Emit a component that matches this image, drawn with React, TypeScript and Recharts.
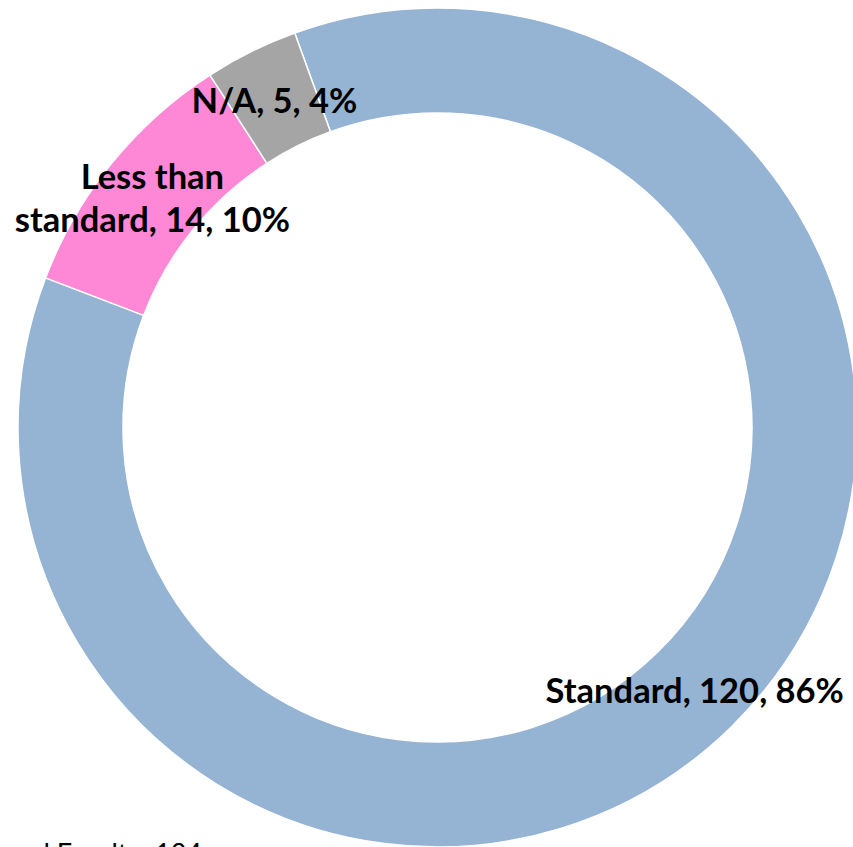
import React from "react";
import { PieChart, Pie, Cell } from "recharts";

const categories: string[] = ["Standard", "Less than standard", "N/A"];
const counts: number[] = [120, 14, 5];
const sliceColors: string[] = ["#95B3D3", "#FF88D6", "#A5A5A5"];
const footnote = "Surveyed Faculty: 134";

const data = categories.map((name, i) => ({ name, value: counts[i] }));

const RAD = Math.PI / 180;
const LABEL_FONT = "Lato, 'Open Sans', sans-serif";

function wrap(text: string, maxChars: number): string[] {
  const words = text.split(" ");
  const lines: string[] = [];
  let cur = "";
  for (const w of words) {
    const cand = cur ? cur + " " + w : w;
    if (cand.length > maxChars && cur) {
      lines.push(cur);
      cur = w;
    } else {
      cur = cand;
    }
  }
  if (cur) lines.push(cur);
  return lines;
}

const renderLabel = (props: any) => {
  const { cx, cy, midAngle, innerRadius, outerRadius, percent, value, name } = props;
  const r = (innerRadius + outerRadius) / 2;
  const x = cx + r * Math.cos(-midAngle * RAD);
  const y = cy + r * Math.sin(-midAngle * RAD);
  const text = `${name}, ${value}, ${Math.round(percent * 100)}%`;
  const lines = wrap(text, 18);
  const lh = 43;
  const startY = y - ((lines.length - 1) * lh) / 2;
  return (
    <text
      x={x}
      y={startY}
      textAnchor="middle"
      dominantBaseline="central"
      fill="#000"
      fontFamily={LABEL_FONT}
      fontWeight={700}
      fontSize={34.5}
    >
      {lines.map((ln, i) => (
        <tspan key={i} x={x} y={startY + i * lh} dominantBaseline="central">
          {ln}
        </tspan>
      ))}
    </text>
  );
};

export default function App() {
  return (
    <div
      style={{
        position: "absolute",
        left: 0,
        top: 0,
        width: 853,
        height: 847,
        overflow: "hidden",
        background: "#fff",
      }}
    >
      <PieChart width={853} height={847} margin={{ top: 0, right: 0, bottom: 0, left: 0 }}>
        <Pie
          data={data}
          dataKey="value"
          nameKey="name"
          cx={437.5}
          cy={427.5}
          innerRadius={314.5}
          outerRadius={419.5}
          startAngle={109.9}
          endAngle={-250.1}
          stroke="#FFFFFF"
          strokeWidth={1.5}
          label={renderLabel}
          labelLine={false}
          isAnimationActive={false}
        >
          {data.map((d, i) => (
            <Cell key={d.name} fill={sliceColors[i]} />
          ))}
        </Pie>
      </PieChart>
      <div
        style={{
          position: "absolute",
          right: 853 - 202,
          top: 839,
          fontFamily: "Lato, sans-serif",
          fontSize: 27,
          lineHeight: "27px",
          color: "#000",
          whiteSpace: "nowrap",
        }}
      >
        {footnote}
      </div>
    </div>
  );
}
